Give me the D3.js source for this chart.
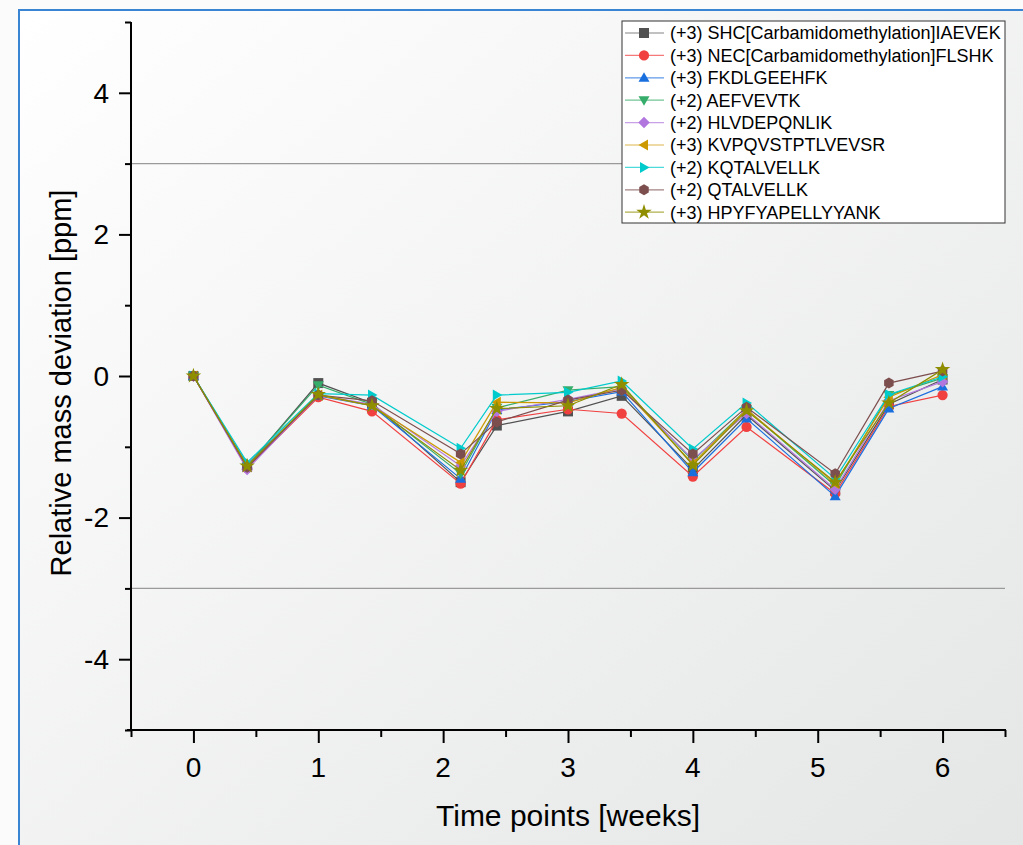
<!DOCTYPE html>
<html>
<head>
<meta charset="utf-8">
<script src="https://cdn.jsdelivr.net/npm/d3@7"></script>
<style>
  body { margin: 0; background: #fff; }
  svg { display: block; font-family: Arial, "Liberation Sans", sans-serif; }
</style>
</head>
<body>
<svg id="chart" width="1023" height="845"></svg>
<script>
// time points in weeks (0, 3 d, 7 d, 10 d, 15 d, 17 d, ...)
const timePoints = [0, 0.43, 1, 1.43, 2.14, 2.43, 3, 3.43, 4, 4.43, 5.14, 5.57, 6];

const seriesNames = [
  '(+3) SHC[Carbamidomethylation]IAEVEK',
  '(+3) NEC[Carbamidomethylation]FLSHK',
  '(+3) FKDLGEEHFK',
  '(+2) AEFVEVTK',
  '(+2) HLVDEPQNLIK',
  '(+3) KVPQVSTPTLVEVSR',
  '(+2) KQTALVELLK',
  '(+2) QTALVELLK',
  '(+3) HPYFYAPELLYYANK'
];

const shcValues = [0, -1.28, -0.10, -0.38, -1.50, -0.70, -0.50, -0.28, -1.32, -0.55, -1.62, -0.40, -0.05];
const necValues = [0, -1.30, -0.30, -0.50, -1.52, -0.62, -0.47, -0.53, -1.42, -0.72, -1.66, -0.43, -0.27];
const fkdValues = [0, -1.25, -0.28, -0.42, -1.45, -0.48, -0.36, -0.22, -1.36, -0.60, -1.70, -0.46, -0.15];
const aefValues = [0, -1.27, -0.13, -0.40, -1.38, -0.45, -0.20, -0.15, -1.20, -0.47, -1.55, -0.27, -0.03];
const hlvValues = [0, -1.32, -0.27, -0.40, -1.27, -0.50, -0.33, -0.18, -1.18, -0.53, -1.60, -0.35, -0.08];
const kvpValues = [0, -1.27, -0.27, -0.42, -1.22, -0.37, -0.38, -0.16, -1.24, -0.47, -1.52, -0.30, 0.02];
const kqtValues = [0, -1.22, -0.25, -0.27, -1.02, -0.27, -0.23, -0.07, -1.03, -0.38, -1.45, -0.26, -0.01];
const qtaValues = [0, -1.29, -0.27, -0.35, -1.10, -0.65, -0.34, -0.20, -1.10, -0.44, -1.38, -0.10, 0.07];
const hpyValues = [0, -1.27, -0.26, -0.42, -1.33, -0.46, -0.42, -0.12, -1.26, -0.49, -1.50, -0.38, 0.09];

const allValues = [shcValues, necValues, fkdValues, aefValues, hlvValues, kvpValues, kqtValues, qtaValues, hpyValues];
const colors = ['#515151', '#F14040', '#1A6FDF', '#37AD6B', '#B177DE', '#CC9900', '#00CBCC', '#7D4E4E', '#8E8E00'];
const symbols = ['square', 'circle', 'triUp', 'triDown', 'diamond', 'triLeft', 'triRight', 'hexagon', 'star'];

const xTicks = [0, 1, 2, 3, 4, 5, 6];
const yTicks = [-4, -2, 0, 2, 4];
const limitLines = [-3, 3];

const svg = d3.select('#chart');

// background gradient
const defs = svg.append('defs');
const grad = defs.append('linearGradient')
  .attr('id', 'bg')
  .attr('x1', '0%').attr('y1', '0%')
  .attr('x2', '100%').attr('y2', '100%');
grad.append('stop').attr('offset', '0%').attr('stop-color', '#ffffff');
grad.append('stop').attr('offset', '100%').attr('stop-color', '#e4e5e5');

svg.append('rect').attr('width', 1023).attr('height', 845).attr('fill', '#fbfbfb');
svg.append('rect')
  .attr('x', 19).attr('y', 10)
  .attr('width', 1020).attr('height', 850)
  .attr('fill', 'url(#bg)')
  .attr('stroke', '#3a84d4')
  .attr('stroke-width', 2);

const x = d3.scaleLinear().domain([-0.5, 6.5]).range([131, 1005]);
const y = d3.scaleLinear().domain([-5, 5]).range([730, 22]);

// limit lines at +/- 3 ppm
svg.append('g')
  .selectAll('line')
  .data(limitLines)
  .enter()
  .append('line')
  .attr('x1', x(-0.5))
  .attr('x2', x(6.5))
  .attr('y1', d => y(d))
  .attr('y2', d => y(d))
  .attr('stroke', '#9a9a9a')
  .attr('stroke-width', 1.2);

// axes
const xAxis = svg.append('g').attr('transform', `translate(0,${y(-5)})`);
xAxis.call(d3.axisBottom(x).tickValues(d3.range(-0.5, 6.51, 0.5)).tickSize(7).tickFormat(''));
xAxis.selectAll('.tick line')
  .attr('y2', d => Number.isInteger(d) ? 13 : 7);
xAxis.append('g')
  .selectAll('text')
  .data(xTicks)
  .enter()
  .append('text')
  .attr('x', d => x(d))
  .attr('y', 47)
  .attr('text-anchor', 'middle')
  .attr('fill', '#000')
  .style('font-size', '28px')
  .text(d => d);

const yAxis = svg.append('g').attr('transform', `translate(${x(-0.5)},0)`);
yAxis.call(d3.axisLeft(y).tickValues(d3.range(-5, 5.1, 1)).tickSize(6).tickFormat(''));
yAxis.selectAll('.tick line')
  .attr('x2', d => d % 2 === 0 ? -12 : -6);
yAxis.append('g')
  .selectAll('text')
  .data(yTicks)
  .enter()
  .append('text')
  .attr('x', -22)
  .attr('y', d => y(d))
  .attr('dy', '0.35em')
  .attr('text-anchor', 'end')
  .attr('fill', '#000')
  .style('font-size', '28px')
  .text(d => d);

svg.selectAll('.domain').attr('stroke', '#000').attr('stroke-width', 2).attr('d', function() {
  return d3.select(this.parentNode).node() === xAxis.node()
    ? `M${x(-0.5) - 4},0H${x(6.5) + 1}`
    : `M0,${y(5)}V${y(-5) + 1}`;
});
svg.selectAll('.tick line').attr('stroke', '#000').attr('stroke-width', 2);

// axis titles
svg.append('text')
  .attr('x', x(3))
  .attr('y', 826)
  .attr('text-anchor', 'middle')
  .style('font-size', '30px')
  .text('Time points [weeks]');

svg.append('text')
  .attr('transform', `translate(71,${y(0) + 7}) rotate(-90)`)
  .attr('text-anchor', 'middle')
  .style('font-size', '29px')
  .text('Relative mass deviation [ppm]');

// marker shapes
const symbolPath = (name, s) => {
  const r = s / 2;
  switch (name) {
    case 'square': return d3.symbol(d3.symbolSquare, s * s)();
    case 'circle': return d3.symbol(d3.symbolCircle, Math.PI * r * r * 1.05)();
    case 'diamond': return `M0,${-r * 1.15}L${r * 1.15},0L0,${r * 1.15}L${-r * 1.15},0Z`;
    case 'triUp': return `M0,${-r * 1.1}L${r * 1.1},${r * 0.8}L${-r * 1.1},${r * 0.8}Z`;
    case 'triDown': return `M0,${r * 1.1}L${r * 1.1},${-r * 0.8}L${-r * 1.1},${-r * 0.8}Z`;
    case 'triLeft': return `M${-r * 1.1},0L${r * 0.8},${-r * 1.1}L${r * 0.8},${r * 1.1}Z`;
    case 'triRight': return `M${r * 1.1},0L${-r * 0.8},${-r * 1.1}L${-r * 0.8},${r * 1.1}Z`;
    case 'hexagon': {
      const pts = d3.range(6).map(i => {
        const a = Math.PI / 6 + i * Math.PI / 3;
        return [Math.cos(a) * r * 1.1, Math.sin(a) * r * 1.1];
      });
      return 'M' + pts.join('L') + 'Z';
    }
    case 'star': return d3.symbol(d3.symbolStar, s * s * 0.75)();
  }
};

const line = d3.line()
  .x(d => x(d.t))
  .y(d => y(d.v));

const plot = svg.append('g');

allValues.forEach((vals, i) => {
  const pts = vals.map((v, j) => ({ t: timePoints[j], v }));
  const g = plot.append('g');
  g.append('path')
    .datum(pts)
    .attr('d', line)
    .attr('fill', 'none')
    .attr('stroke', colors[i])
    .attr('stroke-width', 1.2);
  g.selectAll('path.pt')
    .data(pts)
    .enter()
    .append('path')
    .attr('class', 'pt')
    .attr('transform', d => `translate(${x(d.t)},${y(d.v)})`)
    .attr('d', symbolPath(symbols[i], 10))
    .attr('fill', colors[i]);
});

// legend
const legend = svg.append('g').attr('transform', 'translate(622,21)');
legend.append('rect')
  .attr('width', 383)
  .attr('height', 202)
  .attr('fill', '#fff')
  .attr('stroke', '#333')
  .attr('stroke-width', 1);

seriesNames.forEach((name, i) => {
  const row = legend.append('g').attr('transform', `translate(0,${12 + i * 22.4})`);
  row.append('line')
    .attr('x1', 3).attr('x2', 42)
    .attr('stroke', colors[i])
    .attr('stroke-opacity', 0.7)
    .attr('stroke-width', 1.2);
  row.append('path')
    .attr('transform', 'translate(22,0)')
    .attr('d', symbolPath(symbols[i], 10))
    .attr('fill', colors[i]);
  row.append('text')
    .attr('x', 48)
    .attr('dy', '0.36em')
    .style('font-size', '18px')
    .text(name);
});
</script>
</body>
</html>
